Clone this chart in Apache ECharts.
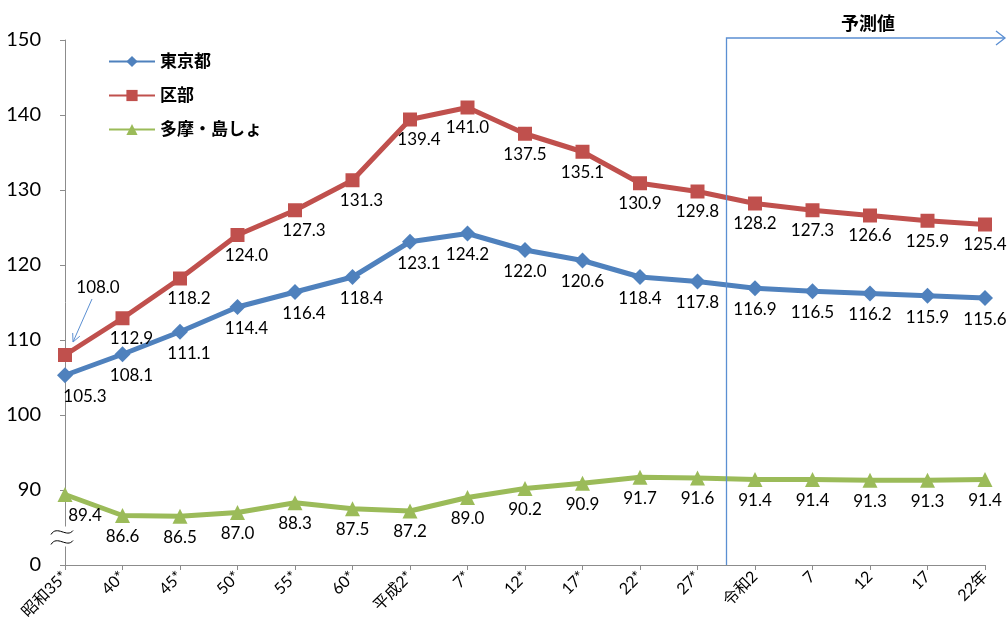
<!DOCTYPE html>
<html>
<head>
<meta charset="utf-8">
<script src="https://cdn.jsdelivr.net/npm/echarts@6/dist/echarts.min.js"></script>
<style>
  html, body { margin: 0; padding: 0; background: #fff; }
  #chart { width: 1007px; height: 619px; }
</style>
</head>
<body>
<div id="chart"></div>
<script>
// 年次（＊は実績値）
const categories = ['昭和35*', '40*', '45*', '50*', '55*', '60*', '平成2*', '7*', '12*', '17*', '22*', '27*', '令和2', '7', '12', '17', '22年'];

// 指数の推移
const tokyo = [105.3, 108.1, 111.1, 114.4, 116.4, 118.4, 123.1, 124.2, 122.0, 120.6, 118.4, 117.8, 116.9, 116.5, 116.2, 115.9, 115.6];
const kubu = [108.0, 112.9, 118.2, 124.0, 127.3, 131.3, 139.4, 141.0, 137.5, 135.1, 130.9, 129.8, 128.2, 127.3, 126.6, 125.9, 125.4];
const tama = [89.4, 86.6, 86.5, 87.0, 88.3, 87.5, 87.2, 89.0, 90.2, 90.9, 91.7, 91.6, 91.4, 91.4, 91.3, 91.3, 91.4];

// 縦軸は途中を省略（80の位置に0を表示）
const yTicks = [80, 90, 100, 110, 120, 130, 140, 150];
const yTickText = ['0', '90', '100', '110', '120', '130', '140', '150'];

const FONT = "Lato, 'Noto Sans CJK JP', sans-serif";
const AXIS_COLOR = '#8c8c8c';
const ARROW_COLOR = '#5b8fd2';

// 上昇区間のラベルは少し右へずらす
function withLabels(values, nudgeRising) {
  return values.map((v, i) => {
    let dx = 0;
    if (i === 0) dx = 20;
    else if (nudgeRising && i < 7 && values[i] > values[i - 1]) dx = 9;
    return { value: v, label: { offset: [dx, 0] } };
  });
}

const kubuData = withLabels(kubu, true);
kubuData[0].label = { position: 'top', offset: [33, -47] };

const labelStyle = {
  show: true,
  position: 'bottom',
  distance: 5,
  color: '#000',
  fontSize: 17,
  fontFamily: FONT,
  formatter: p => p.value.toFixed(1)
};

const chart = echarts.init(document.getElementById('chart'), null, { renderer: 'canvas' });

chart.setOption({
  animation: false,
  backgroundColor: '#fff',
  grid: { left: 65, right: 22, top: 40, bottom: 54, containLabel: false, outerBoundsMode: 'none' },
  legend: {
    orient: 'vertical',
    left: 103,
    top: 48,
    itemWidth: 46,
    itemHeight: 14,
    itemGap: 17,
    textStyle: { fontSize: 17, fontWeight: 'bold', color: '#000', fontFamily: FONT },
    data: ['東京都', '区部', '多摩・島しょ']
  },
  xAxis: {
    type: 'category',
    data: categories,
    boundaryGap: false,
    axisLine: { lineStyle: { color: AXIS_COLOR, width: 1 } },
    axisTick: { show: true, alignWithLabel: true, length: 5, lineStyle: { color: AXIS_COLOR } },
    axisLabel: { rotate: 45, margin: 9, fontSize: 16, color: '#000', fontFamily: FONT, interval: 0 },
    splitLine: { show: false }
  },
  yAxis: {
    type: 'value',
    min: 80,
    max: 150,
    interval: 10,
    axisLine: { show: true, lineStyle: { color: AXIS_COLOR, width: 1 } },
    axisTick: { show: true, length: 5, lineStyle: { color: AXIS_COLOR } },
    axisLabel: {
      margin: 24,
      fontSize: 20,
      color: '#000',
      fontFamily: FONT,
      formatter: v => { const k = yTicks.indexOf(v); return k >= 0 ? yTickText[k] : ''; }
    },
    splitLine: { show: false }
  },
  series: [
    {
      name: '東京都', type: 'line', data: withLabels(tokyo, true),
      symbol: 'diamond', symbolSize: 16,
      lineStyle: { color: '#4f81bd', width: 5 },
      itemStyle: { color: '#4f81bd' },
      label: labelStyle, z: 3
    },
    {
      name: '区部', type: 'line', data: kubuData,
      symbol: 'rect', symbolSize: 14,
      lineStyle: { color: '#c0504d', width: 5 },
      itemStyle: { color: '#c0504d' },
      label: labelStyle, z: 3
    },
    {
      name: '多摩・島しょ', type: 'line', data: withLabels(tama, false),
      symbol: 'triangle', symbolSize: 15,
      lineStyle: { color: '#9bbb59', width: 5 },
      itemStyle: { color: '#9bbb59' },
      label: labelStyle, z: 3
    }
  ]
});

// 注記：予測値の区切り線、区部の矢印、軸の省略記号
const pA = chart.convertToPixel({ seriesIndex: 0 }, [11, 150]);
const pB = chart.convertToPixel({ seriesIndex: 0 }, [12, 80]);
const splitX = Math.round((pA[0] + pB[0]) / 2) + 0.5;
const topY = pA[1] - 2;
const bottomY = pB[1];
const rightX = 1005;

const p0 = chart.convertToPixel({ seriesIndex: 1 }, [0, kubu[0]]);
const ax1 = [p0[0] + 27, p0[1] - 56];
const ax2 = [p0[0] + 8, p0[1] - 13];
const ang = Math.atan2(ax2[1] - ax1[1], ax2[0] - ax1[0]);
const head = 9;
const wing = 0.45;

const brk = chart.convertToPixel({ seriesIndex: 0 }, [0, 83.8]);
const bx = brk[0];
const by = brk[1];

chart.setOption({
  graphic: [
    {
      type: 'polyline', silent: true, z: 10,
      shape: { points: [[splitX, bottomY], [splitX, topY], [rightX, topY]] },
      style: { stroke: ARROW_COLOR, lineWidth: 1.3, fill: null }
    },
    {
      type: 'polyline', silent: true, z: 10,
      shape: { points: [[rightX - 9, topY - 7], [rightX, topY], [rightX - 9, topY + 7]] },
      style: { stroke: ARROW_COLOR, lineWidth: 1.3, fill: null }
    },
    {
      type: 'text', silent: true, z: 10,
      x: 868, y: 23,
      style: { text: '予測値', fill: '#000', font: "bold 18px 'Noto Sans CJK JP', sans-serif", align: 'center', verticalAlign: 'middle' }
    },
    {
      type: 'line', silent: true, z: 10,
      shape: { x1: ax1[0], y1: ax1[1], x2: ax2[0], y2: ax2[1] },
      style: { stroke: ARROW_COLOR, lineWidth: 1 }
    },
    {
      type: 'polyline', silent: true, z: 10,
      shape: {
        points: [
          [ax2[0] - head * Math.cos(ang - wing), ax2[1] - head * Math.sin(ang - wing)],
          ax2,
          [ax2[0] - head * Math.cos(ang + wing), ax2[1] - head * Math.sin(ang + wing)]
        ]
      },
      style: { stroke: ARROW_COLOR, lineWidth: 1, fill: null }
    },
    {
      type: 'rect', silent: true, z: 10,
      shape: { x: bx - 3, y: by - 10, width: 6, height: 20 },
      style: { fill: '#fff' }
    },
    {
      type: 'bezierCurve', silent: true, z: 11,
      shape: { x1: bx - 14, y1: by - 2, cpx1: bx - 8, cpy1: by - 12, cpx2: bx + 2, cpy2: by + 2, x2: bx + 8, y2: by - 6 },
      style: { stroke: '#000', lineWidth: 1, fill: null }
    },
    {
      type: 'bezierCurve', silent: true, z: 11,
      shape: { x1: bx - 14, y1: by + 8, cpx1: bx - 8, cpy1: by - 2, cpx2: bx + 2, cpy2: by + 12, x2: bx + 8, y2: by + 4 },
      style: { stroke: '#000', lineWidth: 1, fill: null }
    }
  ]
});
</script>
</body>
</html>
